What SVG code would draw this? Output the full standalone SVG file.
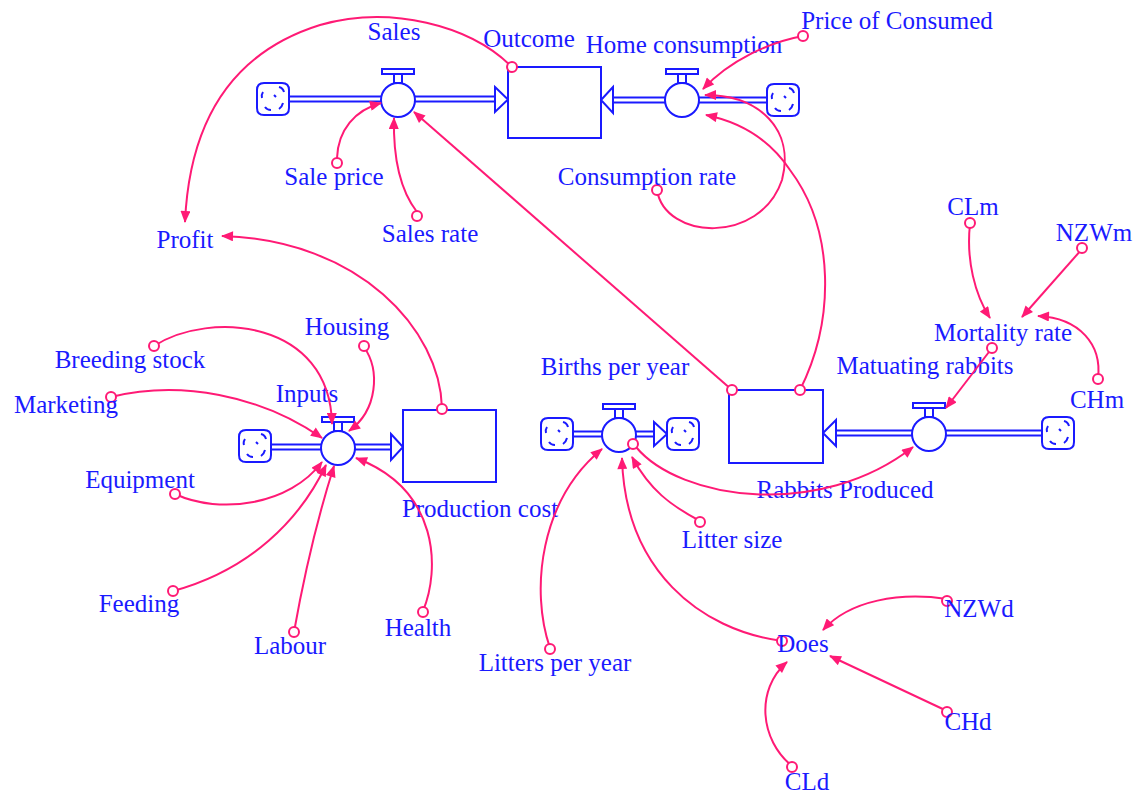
<svg xmlns="http://www.w3.org/2000/svg" width="1138" height="799" viewBox="0 0 1138 799">
<style>
.t{font-family:"Liberation Serif","Times New Roman",serif;font-size:25px;fill:#1a1aff;text-anchor:middle}
.c{fill:none;stroke:#ff1a75;stroke-width:2}
.src{fill:#fff;stroke:#ff1a75;stroke-width:2}
.po{stroke:#1a1aff;stroke-width:7;fill:none}
.pi{stroke:#fff;stroke-width:3;fill:none}
.b{fill:#fff;stroke:#1a1aff;stroke-width:2}
</style>
<defs>
<marker id="ah" viewBox="0 0 12 10" refX="11" refY="5" markerWidth="13" markerHeight="10" markerUnits="userSpaceOnUse" orient="auto">
<path d="M0,0 L12,5 L0,10 z" fill="#ff1a75"/>
</marker>
<g id="cloud">
<path d="M-9,-16 L9,-16 Q16,-16 16,-9 L16,9 Q16,16 9,16 L-9,16 Q-16,16 -16,9 L-16,-9 Q-16,-16 -9,-16 Z" fill="#fff" stroke="#1a1aff" stroke-width="2"/>
<path d="M-10,-7 q-2,3 -1,6 M6,-12 q4,1 5,5 M-8,8 q2,3 6,3 M10,4 q-1,4 -4,6 M1,-4 l2,2" fill="none" stroke="#1a1aff" stroke-width="2"/>
</g>
<g id="valve">
<rect x="-16" y="-31" width="32" height="5" class="b"/>
<rect x="-4" y="-26" width="8" height="9" class="b"/>
<circle r="17" class="b"/>
</g>
</defs>
<rect width="1138" height="799" fill="#fff"/>

<g id="pipes">
<line x1="289" y1="99" x2="382" y2="99" class="po"/><line x1="288" y1="99" x2="383" y2="99" class="pi"/>
<line x1="414" y1="99" x2="496" y2="99" class="po"/><line x1="413" y1="99" x2="497" y2="99" class="pi"/>
<path d="M495,87 L508,99.5 L495,112 Z" class="b"/>
<line x1="613" y1="100" x2="666" y2="100" class="po"/><line x1="612" y1="100" x2="667" y2="100" class="pi"/>
<line x1="698" y1="100" x2="768" y2="100" class="po"/><line x1="697" y1="100" x2="769" y2="100" class="pi"/>
<path d="M613,87 L601,100 L613,113 Z" class="b"/>
<line x1="270" y1="447" x2="322" y2="447" class="po"/><line x1="269" y1="447" x2="323" y2="447" class="pi"/>
<line x1="354" y1="447" x2="392" y2="447" class="po"/><line x1="353" y1="447" x2="393" y2="447" class="pi"/>
<path d="M391,434 L403,447 L391,460 Z" class="b"/>
<line x1="572" y1="434" x2="603" y2="434" class="po"/><line x1="571" y1="434" x2="604" y2="434" class="pi"/>
<line x1="635" y1="434" x2="655" y2="434" class="po"/><line x1="634" y1="434" x2="656" y2="434" class="pi"/>
<path d="M654,422 L667,434 L654,446 Z" class="b"/>
<line x1="836" y1="433" x2="913" y2="433" class="po"/><line x1="835" y1="433" x2="914" y2="433" class="pi"/>
<line x1="945" y1="433" x2="1043" y2="433" class="po"/><line x1="944" y1="433" x2="1044" y2="433" class="pi"/>
<path d="M836,420 L823,433 L836,446 Z" class="b"/>
</g>

<g id="cloud-sales"><use href="#cloud" x="273" y="99"/></g>
<g id="cloud-home"><use href="#cloud" x="783" y="100"/></g>
<g id="cloud-inputs"><use href="#cloud" x="255" y="446"/></g>
<g id="cloud-births-in"><use href="#cloud" x="557" y="434"/></g>
<g id="cloud-births-out"><use href="#cloud" x="683" y="434"/></g>
<g id="cloud-maturing"><use href="#cloud" x="1058" y="433"/></g>

<g id="outcome"><rect x="508" y="67" width="93" height="71" class="b"/><text class="t" x="529" y="47">Outcome</text></g>
<g id="rabbits-produced"><rect x="729" y="390" width="94" height="73" class="b"/><text class="t" x="845" y="498">Rabbits Produced</text></g>
<g id="production-cost"><rect x="403" y="410" width="93" height="72" class="b"/><text class="t" x="480" y="517">Production cost</text></g>

<g id="sales"><use href="#valve" x="398" y="100"/><text class="t" x="394" y="40">Sales</text></g>
<g id="home-consumption"><use href="#valve" x="682" y="100"/><text class="t" x="684" y="53">Home consumption</text></g>
<g id="inputs"><use href="#valve" x="338" y="448"/><text class="t" x="307" y="402">Inputs</text></g>
<g id="births-per-year"><use href="#valve" x="619" y="435"/><text class="t" x="615" y="375">Births per year</text></g>
<g id="matuating-rabbits"><use href="#valve" x="929" y="434"/><text class="t" x="925" y="374">Matuating rabbits</text></g>

<g id="connectors">
<path class="c" d="M512,67 C470,25 390,5 320,25 C240,50 190,110 185,222" marker-end="url(#ah)"/>
<path class="c" d="M337,158 C338,130 355,110 381,103" marker-end="url(#ah)"/>
<path class="c" d="M417,212 C400,190 393,160 394,118" marker-end="url(#ah)"/>
<path class="c" d="M732,390 L414,112" marker-end="url(#ah)"/>
<path class="c" d="M803,36 C770,42 730,60 703,89" marker-end="url(#ah)"/>
<path class="c" d="M657,190 C665,240 760,245 782,180 C795,130 760,95 705,95" marker-end="url(#ah)"/>
<path class="c" d="M800,390 C835,320 835,230 790,170 C770,140 740,122 706,115" marker-end="url(#ah)"/>
<path class="c" d="M992,348 L946,408" marker-end="url(#ah)"/>
<path class="c" d="M970,224 C966,260 975,295 990,318" marker-end="url(#ah)"/>
<path class="c" d="M1082,249 L1022,317" marker-end="url(#ah)"/>
<path class="c" d="M1098,378 C1102,345 1080,318 1038,316" marker-end="url(#ah)"/>
<path class="c" d="M364,347 C380,370 378,410 349,431" marker-end="url(#ah)"/>
<path class="c" d="M154,346 C210,310 330,320 332,424" marker-end="url(#ah)"/>
<path class="c" d="M111,397 C180,380 260,395 322,438" marker-end="url(#ah)"/>
<path class="c" d="M175,494 C220,515 290,505 322,462" marker-end="url(#ah)"/>
<path class="c" d="M173,591 C250,570 300,520 326,465" marker-end="url(#ah)"/>
<path class="c" d="M294,632 C305,570 320,510 334,466" marker-end="url(#ah)"/>
<path class="c" d="M423,611 C440,570 440,490 356,458" marker-end="url(#ah)"/>
<path class="c" d="M442,408 C440,330 360,240 222,236" marker-end="url(#ah)"/>
<path class="c" d="M636,447 C680,500 820,520 913,447" marker-end="url(#ah)"/>
<path class="c" d="M700,521 C670,505 650,490 632,457" marker-end="url(#ah)"/>
<path class="c" d="M550,648 C530,590 540,500 602,449" marker-end="url(#ah)"/>
<path class="c" d="M782,641 C700,630 625,570 622,458" marker-end="url(#ah)"/>
<path class="c" d="M947,599 C900,592 850,600 823,630" marker-end="url(#ah)"/>
<path class="c" d="M947,711 L830,656" marker-end="url(#ah)"/>
<path class="c" d="M792,766 C760,740 755,690 787,662" marker-end="url(#ah)"/>
<circle class="src" cx="512" cy="67" r="5"/>
<circle class="src" cx="337" cy="163" r="5"/>
<circle class="src" cx="417" cy="216" r="5"/>
<circle class="src" cx="732" cy="390" r="5"/>
<circle class="src" cx="800" cy="390" r="5"/>
<circle class="src" cx="803" cy="36" r="5"/>
<circle class="src" cx="657" cy="190" r="5"/>
<circle class="src" cx="992" cy="348" r="5"/>
<circle class="src" cx="970" cy="223" r="5"/>
<circle class="src" cx="1082" cy="248" r="5"/>
<circle class="src" cx="1098" cy="379" r="5"/>
<circle class="src" cx="364" cy="346" r="5"/>
<circle class="src" cx="154" cy="346" r="5"/>
<circle class="src" cx="111" cy="397" r="5"/>
<circle class="src" cx="175" cy="494" r="5"/>
<circle class="src" cx="173" cy="591" r="5"/>
<circle class="src" cx="294" cy="632" r="5"/>
<circle class="src" cx="423" cy="612" r="5"/>
<circle class="src" cx="442" cy="409" r="5"/>
<circle class="src" cx="633" cy="444" r="5"/>
<circle class="src" cx="700" cy="522" r="5"/>
<circle class="src" cx="550" cy="649" r="5"/>
<circle class="src" cx="782" cy="641" r="5"/>
<circle class="src" cx="947" cy="601" r="5"/>
<circle class="src" cx="947" cy="712" r="5"/>
<circle class="src" cx="792" cy="767" r="5"/>
</g>

<g id="price-of-consumed"><text class="t" x="897" y="29">Price of Consumed</text></g>
<g id="sale-price"><text class="t" x="334" y="185">Sale price</text></g>
<g id="sales-rate"><text class="t" x="430" y="242">Sales rate</text></g>
<g id="consumption-rate"><text class="t" x="647" y="185">Consumption rate</text></g>
<g id="profit"><text class="t" x="185" y="248">Profit</text></g>
<g id="clm"><text class="t" x="973" y="215">CLm</text></g>
<g id="nzwm"><text class="t" x="1094" y="241">NZWm</text></g>
<g id="mortality-rate"><text class="t" x="1003" y="341">Mortality rate</text></g>
<g id="chm"><text class="t" x="1097" y="408">CHm</text></g>
<g id="housing"><text class="t" x="347" y="335">Housing</text></g>
<g id="breeding-stock"><text class="t" x="130" y="368">Breeding stock</text></g>
<g id="marketing"><text class="t" x="66" y="413">Marketing</text></g>
<g id="equipment"><text class="t" x="140" y="488">Equipment</text></g>
<g id="litter-size"><text class="t" x="732" y="548">Litter size</text></g>
<g id="feeding"><text class="t" x="139" y="612">Feeding</text></g>
<g id="labour"><text class="t" x="290" y="654">Labour</text></g>
<g id="health"><text class="t" x="418" y="636">Health</text></g>
<g id="litters-per-year"><text class="t" x="555" y="671">Litters per year</text></g>
<g id="does"><text class="t" x="803" y="652">Does</text></g>
<g id="nzwd"><text class="t" x="979" y="617">NZWd</text></g>
<g id="chd"><text class="t" x="968" y="730">CHd</text></g>
<g id="cld"><text class="t" x="807" y="790">CLd</text></g>
</svg>
